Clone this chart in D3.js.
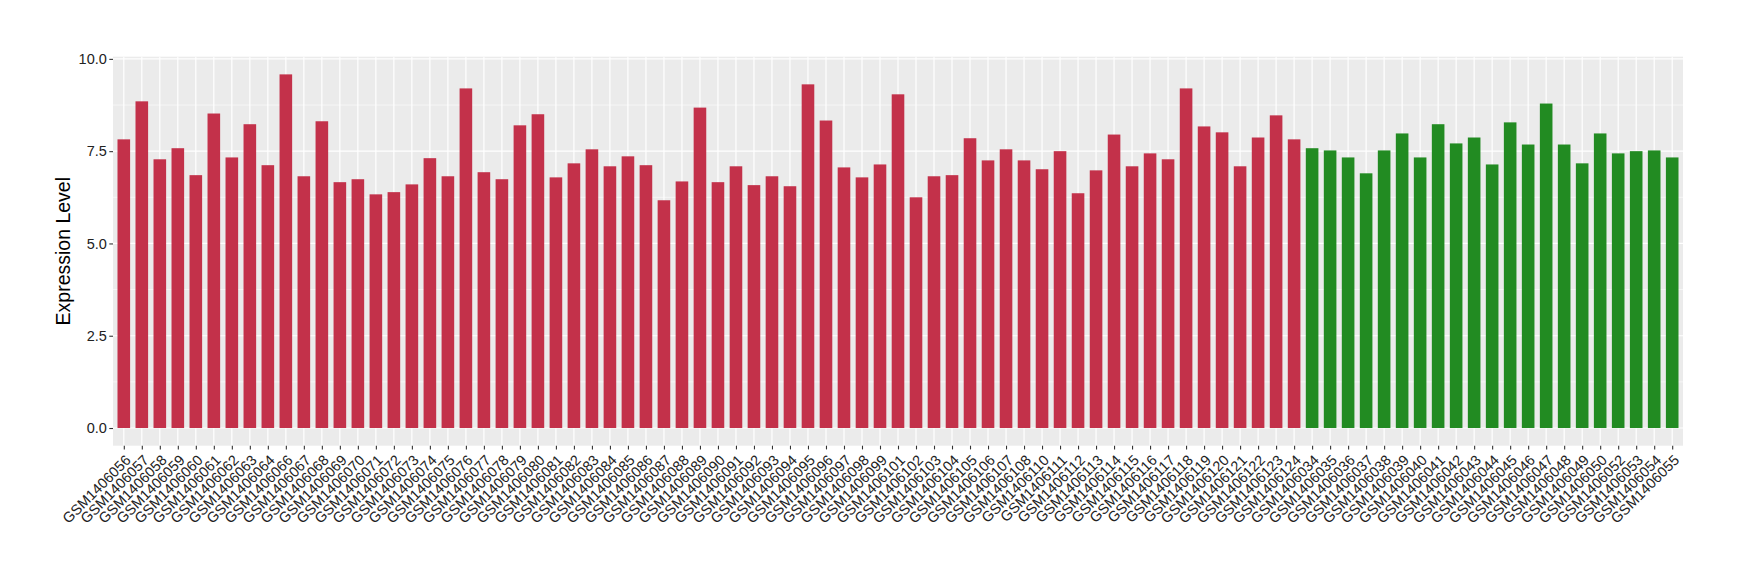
<!DOCTYPE html>
<html>
<head>
<meta charset="utf-8">
<script src="https://cdn.jsdelivr.net/npm/d3@7"></script>
<style>
  html, body { margin: 0; padding: 0; background: #fff; }
  svg { display: block; font-family: "Liberation Sans", Arial, Helvetica, sans-serif; }
</style>
</head>
<body>
<svg id="chart" width="1740" height="580"></svg>
<script>
const tumorSamples = ["GSM1406056","GSM1406057","GSM1406058","GSM1406059","GSM1406060","GSM1406061","GSM1406062","GSM1406063","GSM1406064","GSM1406066","GSM1406067","GSM1406068","GSM1406069","GSM1406070","GSM1406071","GSM1406072","GSM1406073","GSM1406074","GSM1406075","GSM1406076","GSM1406077","GSM1406078","GSM1406079","GSM1406080","GSM1406081","GSM1406082","GSM1406083","GSM1406084","GSM1406085","GSM1406086","GSM1406087","GSM1406088","GSM1406089","GSM1406090","GSM1406091","GSM1406092","GSM1406093","GSM1406094","GSM1406095","GSM1406096","GSM1406097","GSM1406098","GSM1406099","GSM1406101","GSM1406102","GSM1406103","GSM1406104","GSM1406105","GSM1406106","GSM1406107","GSM1406108","GSM1406110","GSM1406111","GSM1406112","GSM1406113","GSM1406114","GSM1406115","GSM1406116","GSM1406117","GSM1406118","GSM1406119","GSM1406120","GSM1406121","GSM1406122","GSM1406123","GSM1406124"];
const tumorValues = [7.82,8.85,7.28,7.58,6.85,8.52,7.33,8.23,7.12,9.58,6.82,8.31,6.66,6.74,6.33,6.39,6.60,7.31,6.82,9.20,6.93,6.74,8.20,8.50,6.79,7.17,7.55,7.09,7.36,7.12,6.17,6.68,8.68,6.66,7.09,6.58,6.82,6.55,9.31,8.33,7.06,6.79,7.14,9.04,6.25,6.82,6.85,7.85,7.25,7.55,7.25,7.01,7.50,6.36,6.98,7.95,7.09,7.44,7.28,9.20,8.17,8.01,7.09,7.87,8.47,7.82];
const normalSamples = ["GSM1406034","GSM1406035","GSM1406036","GSM1406037","GSM1406038","GSM1406039","GSM1406040","GSM1406041","GSM1406042","GSM1406043","GSM1406044","GSM1406045","GSM1406046","GSM1406047","GSM1406048","GSM1406049","GSM1406050","GSM1406052","GSM1406053","GSM1406054","GSM1406055"];
const normalValues = [7.58,7.52,7.33,6.90,7.52,7.98,7.33,8.23,7.71,7.87,7.14,8.28,7.68,8.79,7.68,7.17,7.98,7.44,7.50,7.52,7.33];
const yTicks = [0, 2.5, 5, 7.5, 10];
const yMinor = [1.25, 3.75, 6.25, 8.75];
const yTitle = "Expression Level";
const groupColors = { tumor: "#C3314A", normal: "#228B22" };

const data = tumorSamples.map((s, i) => ({ s, v: tumorValues[i], g: "tumor" }))
  .concat(normalSamples.map((s, i) => ({ s, v: normalValues[i], g: "normal" })));

const svg = d3.select("#chart");
const P = { left: 113, right: 1683, top: 56.7, bottom: 445.7 };

const maxV = d3.max(data, d => d.v);
const x = d3.scalePoint().domain(data.map(d => d.s)).range([P.left, P.right]).padding(0.6);
const y = d3.scaleLinear().domain([-0.05 * maxV, 1.05 * maxV]).range([P.bottom, P.top]);
const bw = x.step() * 0.7;

// panel
svg.append("rect").attr("x", P.left).attr("y", P.top)
  .attr("width", P.right - P.left).attr("height", P.bottom - P.top).attr("fill", "#EBEBEB");

const grid = svg.append("g");
grid.selectAll(".ymin").data(yMinor).join("line")
  .attr("x1", P.left).attr("x2", P.right)
  .attr("y1", d => y(d)).attr("y2", d => y(d))
  .attr("stroke", "#fff").attr("stroke-width", 0.6);
grid.selectAll(".ymaj").data(yTicks).join("line")
  .attr("x1", P.left).attr("x2", P.right)
  .attr("y1", d => y(d)).attr("y2", d => y(d))
  .attr("stroke", "#fff").attr("stroke-width", 1.2);
grid.selectAll(".xmaj").data(data).join("line")
  .attr("x1", d => x(d.s)).attr("x2", d => x(d.s))
  .attr("y1", P.top).attr("y2", P.bottom)
  .attr("stroke", "#fff").attr("stroke-width", 1.2);

// bars
svg.append("g").selectAll("rect").data(data).join("rect")
  .attr("x", d => x(d.s) - bw / 2)
  .attr("width", bw)
  .attr("y", d => y(d.v))
  .attr("height", d => y(0) - y(d.v))
  .attr("fill", d => groupColors[d.g]);

// y axis
const yAxis = d3.axisLeft(y).tickValues(yTicks).tickFormat(d3.format(".1f")).tickSize(3.7).tickPadding(2.5);
const gy = svg.append("g").attr("transform", `translate(${P.left},0)`).call(yAxis);
gy.select(".domain").remove();
gy.selectAll(".tick line").attr("stroke", "#333").attr("stroke-width", 1.1);
gy.selectAll(".tick text").attr("fill", "#222").style("font-size", "14.5px")
  .style("font-family", "'Liberation Sans', Arial, sans-serif");

// x axis
const xAxis = d3.axisBottom(x).tickSize(3.7).tickPadding(0);
const gx = svg.append("g").attr("transform", `translate(0,${P.bottom})`).call(xAxis);
gx.select(".domain").remove();
gx.selectAll(".tick line").attr("stroke", "#333").attr("stroke-width", 1.1);
gx.selectAll(".tick text")
  .attr("fill", "#222").style("font-size", "14.5px")
  .style("font-family", "'Liberation Sans', Arial, sans-serif")
  .attr("text-anchor", "end")
  .attr("x", 0).attr("y", 0).attr("dy", "0.72em")
  .attr("transform", "translate(0,8) rotate(-45)");

// y title
svg.append("text")
  .attr("transform", `translate(70,${(P.top + P.bottom) / 2}) rotate(-90)`)
  .attr("text-anchor", "middle")
  .attr("fill", "#000")
  .style("font-size", "19.5px")
  .text(yTitle);
</script>
</body>
</html>
